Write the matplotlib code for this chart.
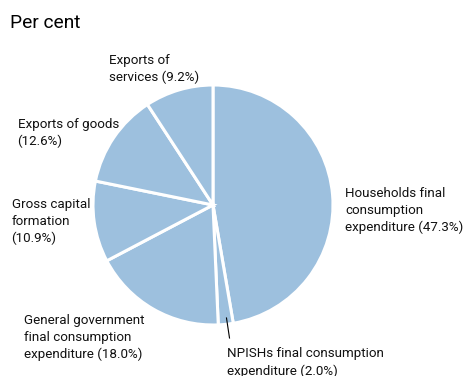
import matplotlib.pyplot as plt

plt.rcParams['font.family'] = ['Roboto', 'DejaVu Sans']

# GDP expenditure components, per cent
labels = ['Households final\nconsumption\nexpenditure (47.3%)',
          'NPISHs final consumption\nexpenditure (2.0%)',
          'General government\nfinal consumption\nexpenditure (18.0%)',
          'Gross capital\nformation\n(10.9%)',
          'Exports of goods\n(12.6%)',
          'Exports of\nservices (9.2%)']
shares = [47.3, 2.0, 18.0, 10.9, 12.6, 9.2]

W, H = 467, 376
fig = plt.figure(figsize=(W / 100, H / 100), dpi=100)

# pie axes: centre (213, 205) px, radius 120 px
cx, cy, r = 213, 205, 120
ax = fig.add_axes([(cx - r) / W, (H - cy - r) / H, 2 * r / W, 2 * r / H])
ax.pie(shares, startangle=90, counterclock=False, radius=1,
       colors=['#9dc0de'] * len(shares),
       wedgeprops=dict(edgecolor='white', linewidth=2.2))
ax.set_xlim(-1, 1)
ax.set_ylim(-1, 1)
ax.set_aspect('equal')
ax.axis('off')


def px(x, y):
    return x / W, 1 - y / H


fig.text(*px(10, 27.5), 'Per cent', fontsize=13.8, va='baseline', ha='left')

# label anchors: left edge and baseline of the last line, pixels
label_pos = [(345, 231.5), (227, 374.5), (24, 358), (11.5, 242.5), (17.5, 145), (109, 81)]
for text, (x, y) in zip(labels, label_pos):
    fig.text(*px(x, y), text, fontsize=9.6, va='baseline', ha='left',
             linespacing=1.38, color='#111111')

# leader line for the small NPISHs slice
fig.add_artist(plt.Line2D([226.5 / W, 229.5 / W], [1 - 318 / H, 1 - 338 / H],
                          color='black', linewidth=0.8))

fig.savefig('out.png', dpi=100)
